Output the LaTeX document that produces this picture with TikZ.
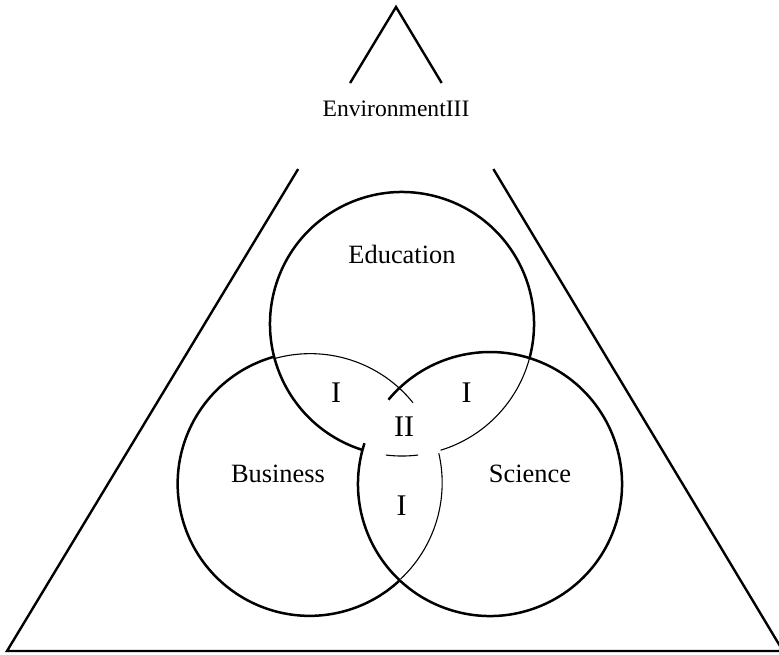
\documentclass[tikz,border=0pt]{standalone}
\usepackage{fontspec}
\setmainfont{Liberation Serif}
\usetikzlibrary{calc}

\begin{document}
\begin{tikzpicture}[
      x=0.5pt, y=-0.5pt,
      set/.style={circle, draw=none, minimum size=132pt, inner sep=0pt, outer sep=0pt},
      outer/.style={line width=1.25pt},
      inner/.style={line width=0.55pt},
      side/.style={line width=1.2pt},
      envlabel/.style={font=\fontsize{11.8}{14}\selectfont, anchor=base},
      setlabel/.style={font=\fontsize{13.2}{16}\selectfont, anchor=base},
      zone/.style={font=\fontsize{15}{18}\selectfont, anchor=base}
    ]
      \useasboundingbox (0,0) rectangle (779,654);

      \node[set] (edu) at (402,324) {};
      \node[set] (bus) at (309,484) {};
      \node[set] (sci) at (490,484) {};

      \coordinate (apex) at (396,7);
      \coordinate (bl) at (7,651);
      \coordinate (br) at (783,651);
      \draw[side] ($(apex)!0.118!(bl)$) -- (apex) -- ($(apex)!0.118!(br)$);
      \draw[side] ($(apex)!0.2516!(bl)$) -- (bl) -- (br) -- ($(apex)!0.2516!(br)$);
      \draw[line width=1.45pt] (bl) -- (br);

      \draw[outer] (edu.-15) arc[start angle=-15, end angle=252.6, radius=66pt];
      \draw[inner] (edu.263) arc[start angle=263, end angle=277, radius=66pt];
      \draw[inner] (edu.287) arc[start angle=287, end angle=345, radius=66pt];

      \draw[outer] (bus.105.3) arc[start angle=105.3, end angle=313.3, radius=66pt];
      \draw[inner] (bus.-46.7) arc[start angle=-46.7, end angle=13, radius=66pt];
      \draw[inner] (bus.38.9) arc[start angle=38.9, end angle=105.3, radius=66pt];

      \draw[outer] (sci.162) arc[start angle=162, end angle=500.3, radius=66pt];

      \node[envlabel] (env) at (396,116) {EnvironmentIII};
      \node[setlabel] (edulabel) at (402,263) {Education};
      \node[setlabel] (buslabel) at (278,482.5) {Business};
      \node[setlabel] (scilabel) at (530,482.5) {Science};
      \node[zone] (eb) at (336,402) {I};
      \node[zone] (es) at (466.5,402) {I};
      \node[zone] (ebs) at (404,436.5) {II};
      \node[zone] (bs) at (401.5,515) {I};
    \end{tikzpicture}
\end{document}
